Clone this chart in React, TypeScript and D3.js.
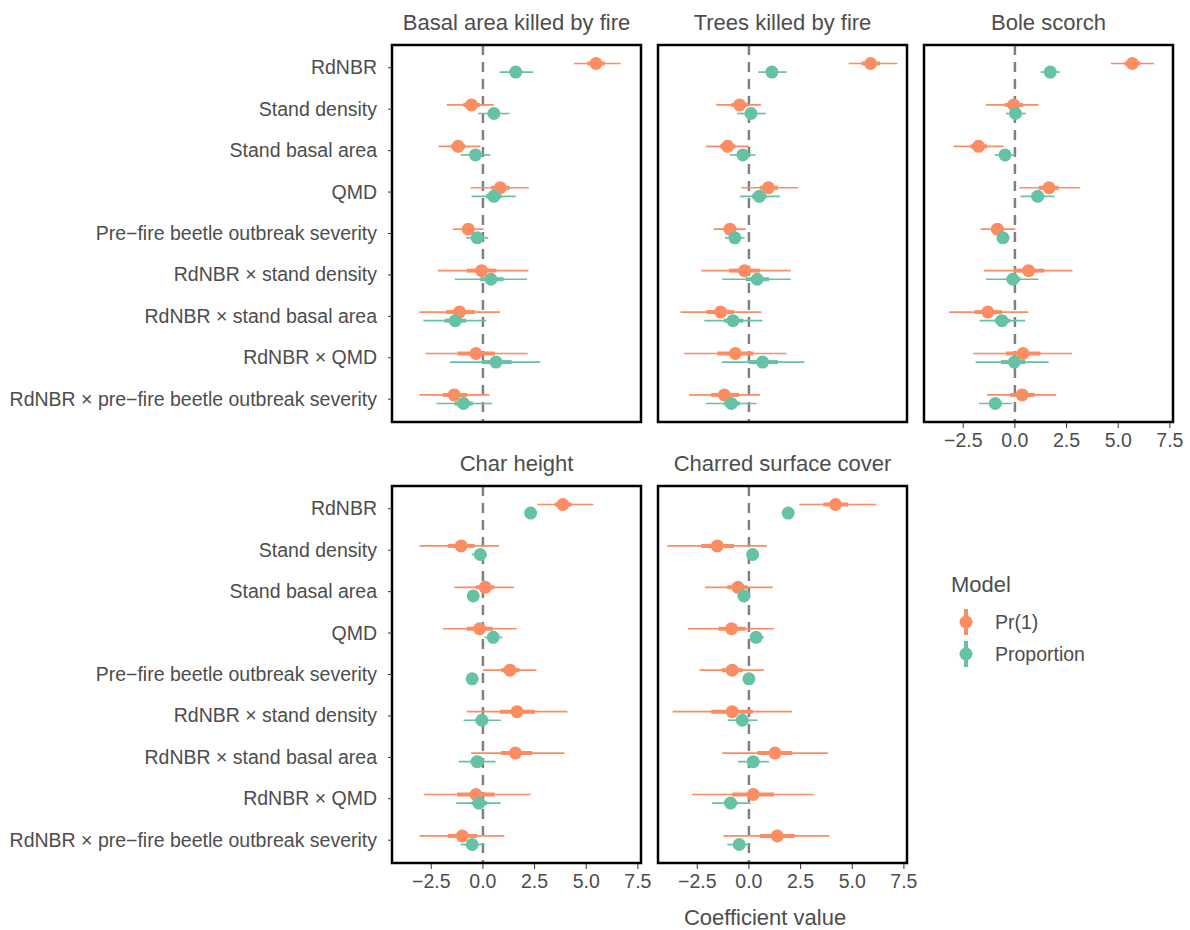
import React from 'react';
import * as d3 from 'd3';

// coefficient rows: [estimate, thin lo, thin hi, thick lo, thick hi]
const categories = [
  'RdNBR',
  'Stand density',
  'Stand basal area',
  'QMD',
  'Pre\u2212fire beetle outbreak severity',
  'RdNBR \u00d7 stand density',
  'RdNBR \u00d7 stand basal area',
  'RdNBR \u00d7 QMD',
  'RdNBR \u00d7 pre\u2212fire beetle outbreak severity',
];

const panelTitles = [
  'Basal area killed by fire',
  'Trees killed by fire',
  'Bole scorch',
  'Char height',
  'Charred surface cover',
];

const models = ['Pr(1)', 'Proportion'];
const modelColors = ['#FC8D62', '#66C2A5'];
const xTicks = [-2.5, 0, 2.5, 5, 7.5];

const basalPr1 = [
  [5.47, 4.4, 6.67, 5.05, 5.9],
  [-0.55, -1.75, 0.52, -0.95, -0.15],
  [-1.2, -2.14, -0.13, -1.55, -0.85],
  [0.84, -0.6, 2.22, 0.4, 1.29],
  [-0.71, -1.46, 0.03, -0.98, -0.45],
  [-0.06, -2.18, 2.2, -0.78, 0.65],
  [-1.13, -3.07, 0.83, -1.78, -0.4],
  [-0.34, -2.78, 2.17, -1.23, 0.58],
  [-1.39, -3.07, 0.31, -1.94, -0.76],
];
const basalProp = [
  [1.59, 0.81, 2.43, 1.3, 1.9],
  [0.53, -0.24, 1.29, 0.25, 0.8],
  [-0.36, -1.07, 0.36, -0.6, -0.1],
  [0.53, -0.55, 1.59, 0.15, 0.9],
  [-0.28, -0.81, 0.26, -0.47, -0.1],
  [0.39, -1.36, 2.14, -0.13, 1.0],
  [-1.34, -2.88, 0.16, -1.86, -0.81],
  [0.63, -1.6, 2.77, -0.06, 1.39],
  [-0.94, -2.25, 0.44, -1.38, -0.49],
];

const treesPr1 = [
  [5.89, 4.82, 7.18, 5.45, 6.35],
  [-0.45, -1.58, 0.58, -0.85, -0.05],
  [-1.03, -2.07, 0.0, -1.4, -0.65],
  [0.94, -0.36, 2.38, 0.53, 1.41],
  [-0.92, -1.71, -0.16, -1.2, -0.65],
  [-0.21, -2.31, 2.02, -0.97, 0.53],
  [-1.37, -3.31, 0.6, -2.06, -0.73],
  [-0.66, -3.15, 1.82, -1.53, 0.21],
  [-1.19, -2.89, 0.53, -1.82, -0.48],
];
const treesProp = [
  [1.11, 0.45, 1.82, 0.85, 1.4],
  [0.1, -0.57, 0.81, -0.15, 0.35],
  [-0.29, -0.92, 0.32, -0.52, -0.05],
  [0.5, -0.44, 1.5, 0.15, 0.85],
  [-0.68, -1.16, -0.21, -0.86, -0.5],
  [0.4, -1.29, 2.02, -0.16, 0.97],
  [-0.77, -2.16, 0.66, -1.21, -0.27],
  [0.66, -1.31, 2.68, 0.0, 1.4],
  [-0.85, -2.08, 0.37, -1.21, -0.44],
];

const bolePr1 = [
  [5.68, 4.65, 6.74, 5.3, 6.05],
  [-0.06, -1.4, 1.13, -0.5, 0.4],
  [-1.76, -2.97, -0.55, -2.15, -1.35],
  [1.65, 0.21, 3.16, 1.15, 2.11],
  [-0.85, -1.66, 0.02, -1.15, -0.55],
  [0.66, -1.5, 2.79, -0.06, 1.42],
  [-1.31, -3.19, 0.65, -1.95, -0.63],
  [0.39, -2.02, 2.77, -0.44, 1.23],
  [0.35, -1.35, 2.0, -0.23, 0.95],
];
const boleProp = [
  [1.71, 1.24, 2.18, 1.45, 1.95],
  [0.03, -0.44, 0.53, -0.15, 0.2],
  [-0.48, -0.97, 0.0, -0.65, -0.3],
  [1.1, 0.27, 1.92, 0.8, 1.4],
  [-0.58, -0.87, -0.27, -0.7, -0.45],
  [-0.1, -1.4, 1.13, -0.39, 0.26],
  [-0.63, -1.71, 0.5, -0.98, -0.23],
  [-0.03, -1.9, 1.63, -0.68, 0.5],
  [-0.95, -1.74, -0.15, -1.25, -0.65],
];

const charPr1 = [
  [3.87, 2.64, 5.34, 3.48, 4.29],
  [-1.05, -3.07, 0.78, -1.7, -0.4],
  [0.11, -1.38, 1.5, -0.35, 0.55],
  [-0.16, -1.93, 1.63, -0.78, 0.48],
  [1.31, 0.0, 2.59, 0.88, 1.77],
  [1.65, -0.78, 4.09, 0.81, 2.51],
  [1.57, -0.57, 3.95, 0.86, 2.39],
  [-0.34, -2.86, 2.31, -1.25, 0.57],
  [-1.0, -3.07, 1.04, -1.7, -0.29],
];
const charProp = [
  [2.31, 2.05, 2.55, 2.15, 2.45],
  [-0.13, -0.53, 0.19, -0.3, 0.05],
  [-0.47, -0.73, -0.2, -0.6, -0.35],
  [0.5, 0.08, 0.94, 0.3, 0.7],
  [-0.52, -0.75, -0.3, -0.62, -0.42],
  [-0.05, -0.94, 0.87, -0.35, 0.25],
  [-0.28, -1.17, 0.61, -0.6, 0.05],
  [-0.19, -1.29, 0.86, -0.55, 0.2],
  [-0.52, -1.08, 0.08, -0.75, -0.3],
];

const surfacePr1 = [
  [4.19, 2.44, 6.16, 3.6, 4.8],
  [-1.53, -3.95, 0.87, -2.31, -0.73],
  [-0.53, -2.13, 1.15, -1.05, -0.05],
  [-0.84, -2.95, 1.21, -1.48, -0.16],
  [-0.81, -2.39, 0.73, -1.3, -0.3],
  [-0.81, -3.69, 2.08, -1.82, 0.19],
  [1.26, -1.29, 3.82, 0.4, 2.1],
  [0.21, -2.76, 3.13, -0.81, 1.21],
  [1.37, -1.24, 3.89, 0.53, 2.21],
];
const surfaceProp = [
  [1.9, 1.7, 2.1, 1.8, 2.0],
  [0.18, -0.05, 0.4, 0.05, 0.3],
  [-0.24, -0.45, 0.0, -0.35, -0.12],
  [0.35, 0.12, 0.73, 0.2, 0.5],
  [0.0, -0.2, 0.2, -0.1, 0.1],
  [-0.32, -1.02, 0.42, -0.55, -0.08],
  [0.21, -0.53, 0.97, -0.05, 0.47],
  [-0.89, -1.79, 0.08, -1.2, -0.55],
  [-0.47, -1.05, 0.0, -0.68, -0.25],
];

const panelData = [
  [basalPr1, basalProp],
  [treesPr1, treesProp],
  [bolePr1, boleProp],
  [charPr1, charProp],
  [surfacePr1, surfaceProp],
];

// layout
const W = 1190, H = 930;
const colX = [392, 658, 924];
const rowY = [45, 486];
const pw = 249, ph = 377;
const font = 'Liberation Sans, Arial, Helvetica, sans-serif';
const textCol = '#4d4d4d';
const dodge = 4.3;

const fmt = (v: number) => (v < 0 ? '\u2212' + Math.abs(v).toFixed(1) : v.toFixed(1));

function Panel({ idx }: { idx: number }) {
  const col = idx % 3;
  const row = Math.floor(idx / 3);
  const x0 = colX[col];
  const y0 = rowY[row];
  const x = d3.scaleLinear().domain([-4.4, 7.65]).range([x0, x0 + pw]);
  const y = d3.scalePoint<string>().domain(categories).range([y0, y0 + ph]).padding(0.55);
  const showX = idx >= 2;
  const showY = col === 0;

  return (
    <g>
      <text x={x0 + pw / 2} y={y0 - 15} textAnchor="middle" fontSize={22} fill="#4d4d4d" fontFamily={font}>
        {panelTitles[idx]}
      </text>
      <rect x={x0} y={y0} width={pw} height={ph} fill="#fff" />
      <line x1={x(0)} x2={x(0)} y1={y0} y2={y0 + ph} stroke="#808080" strokeWidth={2.5} strokeDasharray="10,7" />
      {panelData[idx].map((series, m) =>
        series.map((d, i) => {
          const cy = (y(categories[i]) as number) + (m === 0 ? -dodge : dodge);
          return (
            <g key={m + '-' + i}>
              <line x1={x(d[1])} x2={x(d[2])} y1={cy} y2={cy} stroke={modelColors[m]} strokeWidth={1.7} />
              <line x1={x(d[3])} x2={x(d[4])} y1={cy} y2={cy} stroke={modelColors[m]} strokeWidth={4} />
              <circle cx={x(d[0])} cy={cy} r={6.5} fill={modelColors[m]} />
            </g>
          );
        })
      )}
      <rect x={x0} y={y0} width={pw} height={ph} fill="none" stroke="#000" strokeWidth={2.5} />
      {showY &&
        categories.map((c) => (
          <g key={c}>
            <line x1={x0 - 4} x2={x0} y1={y(c)} y2={y(c)} stroke="#333" strokeWidth={1} />
            <text x={x0 - 15} y={(y(c) as number) + 6.5} textAnchor="end" fontSize={19.5} fill={textCol} fontFamily={font}>
              {c}
            </text>
          </g>
        ))}
      {showX &&
        xTicks.map((t) => (
          <g key={t}>
            <line x1={x(t)} x2={x(t)} y1={y0 + ph + 1} y2={y0 + ph + 6} stroke="#333" strokeWidth={1} />
            <text x={x(t)} y={y0 + ph + 25} textAnchor="middle" fontSize={19.5} fill={textCol} fontFamily={font}>
              {fmt(t)}
            </text>
          </g>
        ))}
    </g>
  );
}

export default function App() {
  return (
    <svg width={W} height={H} style={{ position: 'absolute', left: 0, top: 0, background: '#fff' }}>
      <rect width={W} height={H} fill="#fff" />
      {panelTitles.map((_, i) => (
        <Panel key={i} idx={i} />
      ))}
      <text x={765} y={925} textAnchor="middle" fontSize={22} fill="#4d4d4d" fontFamily={font}>
        Coefficient value
      </text>
      <g>
        <text x={951} y={592} fontSize={22} fill="#4d4d4d" fontFamily={font}>
          Model
        </text>
        {models.map((m, i) => {
          const cy = 622 + i * 32;
          return (
            <g key={m}>
              <line x1={966} x2={966} y1={cy - 13} y2={cy + 13} stroke={modelColors[i]} strokeWidth={4} />
              <circle cx={966} cy={cy} r={6.5} fill={modelColors[i]} />
              <text x={995} y={cy + 7} fontSize={19.5} fill={textCol} fontFamily={font}>
                {m}
              </text>
            </g>
          );
        })}
      </g>
    </svg>
  );
}
